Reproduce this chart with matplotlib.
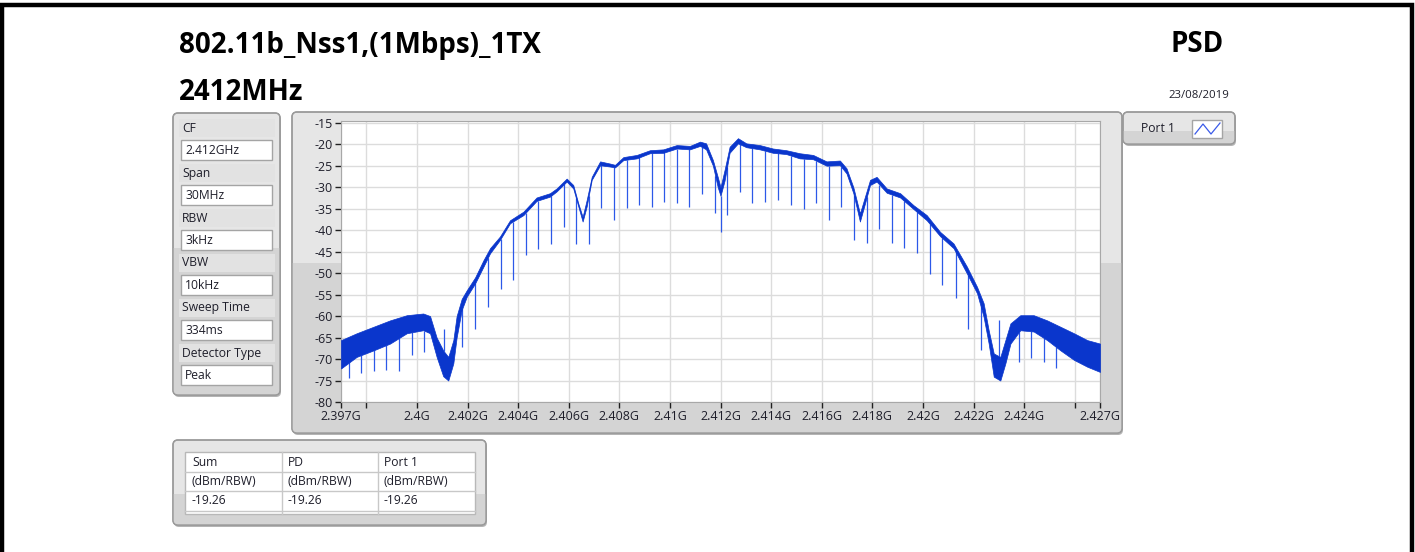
import matplotlib
matplotlib.use('Agg')
import matplotlib.pyplot as plt
import numpy as np
from matplotlib.patches import FancyBboxPatch, Rectangle
from matplotlib.lines import Line2D

# Spectrum envelope (frequency in GHz, dBm/RBW)
env_f = [2.39700, 2.39762, 2.39828, 2.39894, 2.39960, 2.40025, 2.40052, 2.40078,
         2.40104, 2.40124, 2.40144, 2.40157, 2.40177, 2.40197, 2.40230, 2.40263,
         2.40289, 2.40328, 2.40368, 2.40421, 2.40473, 2.40526, 2.40552, 2.40592,
         2.40618, 2.40638, 2.40655, 2.40671, 2.40691, 2.40724, 2.40763, 2.40783,
         2.40816, 2.40869, 2.40921, 2.40974, 2.41027, 2.41079, 2.41119, 2.41143,
         2.41170, 2.41189, 2.41200, 2.41216, 2.41236, 2.41269, 2.41302, 2.41355,
         2.41407, 2.41460, 2.41513, 2.41566, 2.41619, 2.41672, 2.41698, 2.41725,
         2.41751, 2.41771, 2.41791, 2.41817, 2.41857, 2.41910, 2.41963, 2.42015,
         2.42068, 2.42121, 2.42174, 2.42214, 2.42240, 2.42260, 2.42280, 2.42306,
         2.42326, 2.42346, 2.42385, 2.42438, 2.42491, 2.42544, 2.42597, 2.42650,
         2.42700]
env_hi = [-65.6, -64.0, -62.5, -61.0, -59.8, -59.4, -60.0, -65.0,
          -68.0, -69.5, -65.6, -60.0, -56.0, -54.0, -51.0, -47.0,
          -44.2, -41.5, -37.7, -35.7, -32.4, -31.4, -30.3, -28.0,
          -29.5, -33.8, -36.9, -33.0, -27.6, -24.0, -24.5, -24.8,
          -23.0, -22.5, -21.4, -21.2, -20.2, -20.4, -19.4, -19.8,
          -23.7, -27.6, -30.0, -26.0, -20.6, -18.6, -19.8, -20.2,
          -21.0, -21.4, -22.1, -22.5, -24.0, -23.8, -25.6, -30.0,
          -36.1, -32.2, -28.3, -27.6, -30.3, -31.4, -34.2, -36.5,
          -40.4, -43.1, -48.5, -53.2, -57.0, -63.3, -68.7, -69.5,
          -65.6, -61.7, -59.8, -59.8, -61.0, -62.5, -64.0, -65.6,
          -66.4]
env_lo = [-72.2, -69.5, -68.0, -66.4, -64.0, -63.3, -64.0, -69.5,
          -74.0, -75.0, -71.0, -65.0, -58.6, -55.5, -52.4, -48.5,
          -45.4, -42.3, -38.4, -36.5, -33.2, -32.2, -31.0, -28.7,
          -30.3, -34.5, -38.0, -34.5, -28.3, -24.9, -25.2, -25.4,
          -23.7, -23.3, -22.1, -22.0, -21.0, -21.2, -20.4, -21.2,
          -25.0, -30.0, -32.0, -28.5, -22.0, -19.8, -20.7, -21.2,
          -22.0, -22.3, -23.3, -23.5, -25.0, -24.9, -26.8, -31.4,
          -38.0, -33.8, -29.5, -28.7, -31.3, -32.4, -35.1, -37.7,
          -41.4, -44.2, -50.1, -54.7, -60.2, -66.4, -74.1, -75.0,
          -71.0, -66.4, -63.3, -63.6, -65.6, -68.0, -70.2, -71.8,
          -73.0]

# Narrow dips below the trace (frequency GHz, lowest dB)
spike_f = [2.39733, 2.39779, 2.39830, 2.39879, 2.39931, 2.39982, 2.40029, 2.40180,
           2.40231, 2.40280, 2.40331, 2.40379, 2.40430, 2.40477, 2.40529, 2.40581,
           2.40629, 2.40679, 2.40728, 2.40778, 2.40829, 2.40878, 2.40929, 2.40978,
           2.41029, 2.41077, 2.41128, 2.41179, 2.41200, 2.41226, 2.41278, 2.41326,
           2.41377, 2.41429, 2.41478, 2.41529, 2.41577, 2.41628, 2.41677, 2.41727,
           2.41778, 2.41828, 2.41878, 2.41927, 2.41978, 2.42029, 2.42077, 2.42129,
           2.42177, 2.42228, 2.42380, 2.42428, 2.42479, 2.42528]
spike_lo = [-74.5, -73.3, -72.9, -72.5, -72.9, -69.1, -68.3, -67.3,
            -63.0, -57.8, -53.6, -51.6, -45.9, -44.5, -43.2, -39.3,
            -43.2, -43.2, -34.8, -37.7, -34.8, -34.2, -34.5, -33.5,
            -33.8, -34.5, -31.6, -36.1, -40.4, -36.5, -31.1, -33.8,
            -33.5, -33.0, -34.2, -35.1, -33.8, -37.7, -34.5, -42.3,
            -43.1, -39.8, -42.9, -44.1, -45.4, -50.1, -52.8, -55.9,
            -62.9, -67.9, -70.6, -69.8, -70.6, -72.2]

# Upward spikes inside the two deep notches
up_f = [2.40107, 2.42302]
up_hi = [-63.0, -60.9]

x_ticks = [2.397, 2.398, 2.400, 2.402, 2.404, 2.406, 2.408, 2.410, 2.412,
           2.414, 2.416, 2.418, 2.420, 2.422, 2.424, 2.426, 2.427]
x_labels = ['2.397G', '', '2.4G', '2.402G', '2.404G', '2.406G', '2.408G', '2.41G',
            '2.412G', '2.414G', '2.416G', '2.418G', '2.42G', '2.422G', '2.424G', '', '2.427G']
y_ticks = list(range(-80, -14, 5))

param_names = ['CF', 'Span', 'RBW', 'VBW', 'Sweep Time', 'Detector Type']
param_values = ['2.412GHz', '30MHz', '3kHz', '10kHz', '334ms', 'Peak']

table_cols = ['Sum', 'PD', 'Port 1']
table_units = ['(dBm/RBW)', '(dBm/RBW)', '(dBm/RBW)']
table_vals = ['-19.26', '-19.26', '-19.26']

W, H = 1415, 552
plt.rcParams['font.family'] = ['Open Sans', 'DejaVu Sans']
fig = plt.figure(figsize=(W / 100, H / 100), dpi=100)

# background canvas in pixel coordinates
bg = fig.add_axes([0, 0, 1, 1])
bg.set_xlim(0, W)
bg.set_ylim(H, 0)
bg.axis('off')

TRACE = '#0a36cc'
TXT = '#1e1e2a'


def panel(x0, y0, x1, y1, split):
    shadow = FancyBboxPatch((x0 + 1, y0 + 2), x1 - x0, y1 - y0,
                            boxstyle='round,pad=0,rounding_size=5',
                            fc='#b4b4b4', ec='none', zorder=1)
    bg.add_patch(shadow)
    p = FancyBboxPatch((x0, y0), x1 - x0, y1 - y0,
                       boxstyle='round,pad=0,rounding_size=5',
                       fc='#e6e6e6', ec='#9a9a9a', lw=1.0, zorder=2)
    bg.add_patch(p)
    low = Rectangle((x0, split), x1 - x0, y1 - split, fc='#d4d4d4', ec='none', zorder=2.1)
    bg.add_patch(low)
    low.set_clip_path(p)
    edge = FancyBboxPatch((x0, y0), x1 - x0, y1 - y0,
                          boxstyle='round,pad=0,rounding_size=5',
                          fc='none', ec='#9a9a9a', lw=1.0, zorder=2.2)
    bg.add_patch(edge)


# outer black frame
bg.plot([1.5, 1.5, W - 3.5, W - 3.5], [H, 4.5, 4.5, H], color='black', lw=3.2,
        solid_joinstyle='miter', zorder=5)

# titles
bg.text(179, 46, '802.11b_Nss1,(1Mbps)_1TX', fontsize=20, fontweight='bold',
        color='black', va='center', ha='left')
bg.text(179, 92, '2412MHz', fontsize=20, fontweight='bold', color='black',
        va='center', ha='left')
bg.text(1224, 45, 'PSD', fontsize=20, fontweight='bold', color='black',
        va='center', ha='right')
bg.text(1229, 96, '23/08/2019', fontsize=8.2, color=TXT, va='center', ha='right')

# parameter panel
panel(173, 113, 280, 395, 248)
for i, (name, val) in enumerate(zip(param_names, param_values)):
    yl = 128 + i * 45
    bg.add_patch(Rectangle((179, yl - 9), 96, 18, fc='#e2e2e2', ec='none', zorder=2.3))
    bg.text(182, yl, name, fontsize=8.7, color=TXT, va='center', ha='left', zorder=4)
    yb = 140 + i * 45
    bg.add_patch(Rectangle((181, yb), 91, 20, fc='white', ec='#a4a4a4', lw=1.0, zorder=3))
    bg.text(185, yb + 10.5, val, fontsize=8.7, color=TXT, va='center', ha='left', zorder=4)

# chart panel
panel(292, 112, 1122, 433, 263)

# legend panel
panel(1123, 112, 1235, 144, 131)
bg.text(1141, 129, 'Port 1', fontsize=8.7, color=TXT, va='center', ha='left', zorder=4)
bg.add_patch(Rectangle((1192, 120), 30, 18, fc='white', ec='#a4a4a4', lw=1.0, zorder=3))
bg.add_line(Line2D([1195, 1203, 1211, 1220], [134, 124, 134, 123], color='#3a5ae8',
                   lw=0.9, zorder=4))

# results table panel
panel(173, 440, 486, 525, 494)
bg.add_patch(Rectangle((185, 452), 290, 62, fc='white', ec='#b8b8b8', lw=1.0, zorder=3))
for xv in [282, 378]:
    bg.plot([xv, xv], [452, 514], color='#c8c8c8', lw=1.0, zorder=3.5)
for yv in [472, 491, 511]:
    bg.plot([185, 475], [yv, yv], color='#c8c8c8', lw=1.0, zorder=3.5)
for j, xc in enumerate([192, 288, 384]):
    bg.text(xc, 462, table_cols[j], fontsize=8.7, color=TXT, va='center', ha='left', zorder=4)
    bg.text(xc, 481.5, table_units[j], fontsize=8.7, color=TXT, va='center', ha='left', zorder=4)
    bg.text(xc, 501, table_vals[j], fontsize=8.7, color=TXT, va='center', ha='left', zorder=4)

# the spectrum plot
ax = fig.add_axes([341 / W, 1 - 402 / H, (1100 - 341) / W, (402 - 121) / H], zorder=3)
ax.set_facecolor('white')
ax.set_xlim(2.397, 2.427)
ax.set_ylim(-80, -14.6)
ax.set_xticks(x_ticks)
ax.set_xticklabels(x_labels)
ax.set_yticks(y_ticks)
ax.set_yticklabels([str(v) for v in y_ticks])
ax.grid(True, color='#dcdcdc', lw=1.0)
ax.set_axisbelow(True)
ax.tick_params(axis='both', direction='out', length=4.5, width=1.0, color='#202020',
               labelsize=9, labelcolor=TXT, pad=1.5)
for s in ax.spines.values():
    s.set_color('#a8a8a8')
    s.set_linewidth(0.8)

env_f_a = np.array(env_f)
env_lo_a = np.array(env_lo)
tops = np.interp(spike_f, env_f_a, env_lo_a)
ax.vlines(spike_f, spike_lo, tops, color='#2c58e8', lw=0.9, zorder=3)
ax.vlines(up_f, up_hi, np.interp(up_f, env_f_a, np.array(env_hi)), color='#2c58e8',
          lw=0.9, zorder=3)
ax.fill_between(env_f, env_lo, env_hi, color=TRACE, lw=0.5, edgecolor=TRACE, zorder=4)

fig.savefig('out.png', dpi=100)
